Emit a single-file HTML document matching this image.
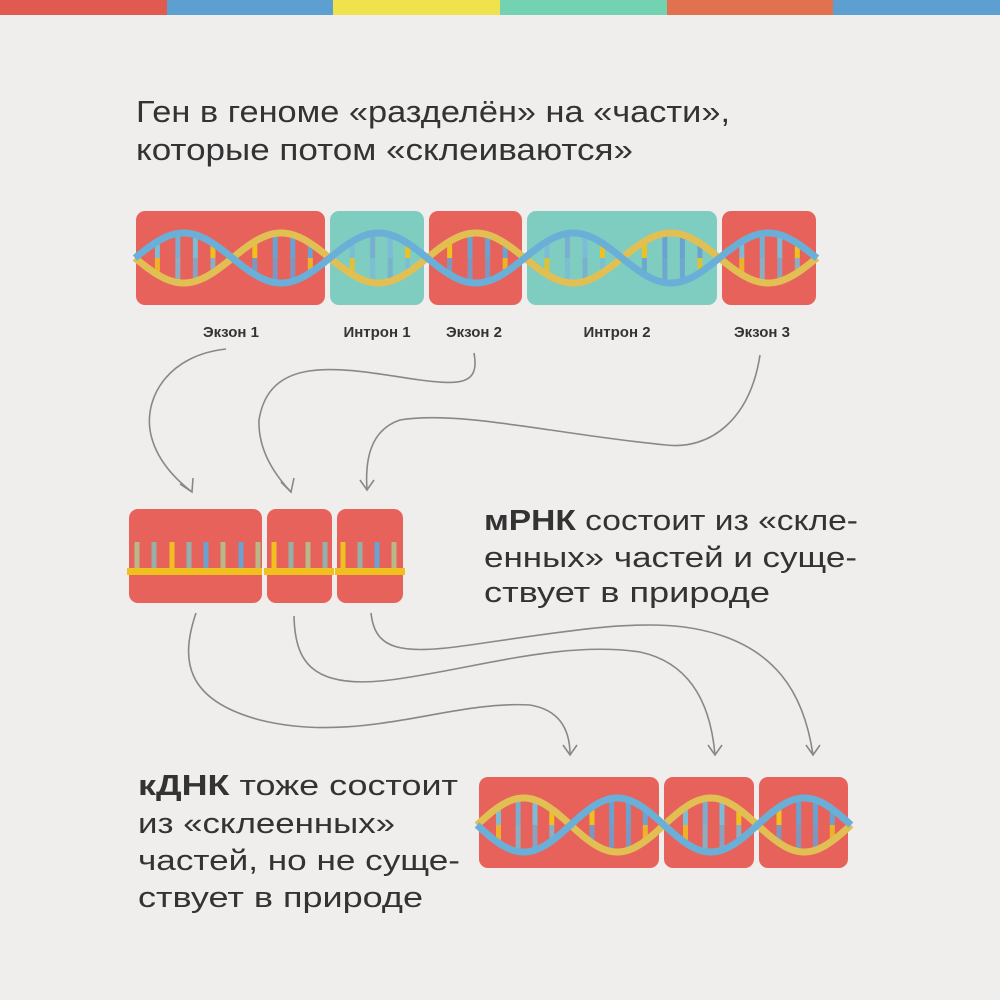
<!DOCTYPE html>
<html><head><meta charset="utf-8"><style>
html,body{margin:0;padding:0;background:#efeeec;}
svg{display:block;}
text{font-family:"Liberation Sans",sans-serif;fill:#333;}
</style></head><body>
<svg id="s" width="1000" height="1000" viewBox="0 0 1000 1000" xmlns="http://www.w3.org/2000/svg">
<rect width="1000" height="1000" fill="#efeeec"/>
<rect x="0" y="0" width="167" height="15" fill="#e05a4f"/>
<rect x="167" y="0" width="166" height="15" fill="#5e9fd2"/>
<rect x="333" y="0" width="167" height="15" fill="#efe24c"/>
<rect x="500" y="0" width="167" height="15" fill="#72d2b2"/>
<rect x="667" y="0" width="166" height="15" fill="#e27150"/>
<rect x="833" y="0" width="167" height="15" fill="#5e9fd2"/>

<text x="136" y="122" font-size="31" textLength="594" lengthAdjust="spacingAndGlyphs">Ген в геноме «разделён» на «части»,</text>
<text x="136" y="160" font-size="31" textLength="497" lengthAdjust="spacingAndGlyphs">которые потом «склеиваются»</text>

<rect x="136" y="211" width="189" height="94" rx="9" fill="#e8625c"/>
<rect x="330" y="211" width="94" height="94" rx="9" fill="#7ecdc0"/>
<rect x="429" y="211" width="93" height="94" rx="9" fill="#e8625c"/>
<rect x="527" y="211" width="190" height="94" rx="9" fill="#7ecdc0"/>
<rect x="722" y="211" width="94" height="94" rx="9" fill="#e8625c"/>
<g id="h1"></g>

<g font-size="15" font-weight="bold" text-anchor="middle">
<text x="231" y="337">Экзон 1</text>
<text x="377" y="337">Интрон 1</text>
<text x="474" y="337">Экзон 2</text>
<text x="617" y="337">Интрон 2</text>
<text x="762" y="337">Экзон 3</text>
</g>

<g fill="none" stroke="#888" stroke-width="1.6">
<path d="M226,349 C170,355 145,395 150,430 C154,455 170,475 192,492" />
<path d="M474,353 C480,385 460,385 420,380 C350,370 270,350 259,420 C258,450 275,475 291,492"/>
<path d="M760,355 C750,420 710,450 666,445 C560,435 460,410 400,420 C370,430 365,460 367,490"/>
<path d="M196,613 C180,660 185,700 260,720 C360,745 450,700 530,705 C560,710 570,730 570,755"/>
<path d="M294,616 C295,660 310,690 390,680 C470,670 560,640 640,652 C700,665 712,720 715,755"/>
<path d="M371,613 C375,650 400,655 470,645 C560,632 630,620 684,627 C780,640 805,700 813,755"/>
</g>
<g fill="none" stroke="#888" stroke-width="1.6">
<path d="M180,484 L192,492 L193,478"/>
<path d="M281,482 L291,492 L294,478"/>
<path d="M360,480 L367,490 L374,480"/>
<path d="M563,745 L570,755 L577,745"/>
<path d="M708,745 L715,755 L722,745"/>
<path d="M806,745 L813,755 L820,745"/>
</g>

<rect x="129" y="509" width="133" height="94" rx="9" fill="#e8625c"/>
<rect x="267" y="509" width="65" height="94" rx="9" fill="#e8625c"/>
<rect x="337" y="509" width="66" height="94" rx="9" fill="#e8625c"/>
<g stroke-width="5">
<line x1="137" y1="542" x2="137" y2="570" stroke="#b8b889"/>
<line x1="154" y1="542" x2="154" y2="570" stroke="#94b0a8"/>
<line x1="172" y1="542" x2="172" y2="570" stroke="#f0c020"/>
<line x1="189" y1="542" x2="189" y2="570" stroke="#94b0a8"/>
<line x1="206" y1="542" x2="206" y2="570" stroke="#6aa2d2"/>
<line x1="223" y1="542" x2="223" y2="570" stroke="#b8b889"/>
<line x1="241" y1="542" x2="241" y2="570" stroke="#6aa2d2"/>
<line x1="258" y1="542" x2="258" y2="570" stroke="#b8b889"/>
<line x1="274" y1="542" x2="274" y2="570" stroke="#f0c020"/>
<line x1="291" y1="542" x2="291" y2="570" stroke="#94b0a8"/>
<line x1="308" y1="542" x2="308" y2="570" stroke="#b8b889"/>
<line x1="325" y1="542" x2="325" y2="570" stroke="#94b0a8"/>
<line x1="343" y1="542" x2="343" y2="570" stroke="#f0c020"/>
<line x1="360" y1="542" x2="360" y2="570" stroke="#94b0a8"/>
<line x1="377" y1="542" x2="377" y2="570" stroke="#6aa2d2"/>
<line x1="394" y1="542" x2="394" y2="570" stroke="#b8b889"/>
</g>
<rect x="127" y="568" width="135" height="7" fill="#f0c020"/>
<rect x="264" y="568" width="70" height="7" fill="#f0c020"/>
<rect x="335" y="568" width="70" height="7" fill="#f0c020"/>

<text x="484" y="530" font-size="29" textLength="374" lengthAdjust="spacingAndGlyphs"><tspan font-weight="bold">мРНК</tspan> состоит из «скле-</text>
<text x="484" y="567" font-size="29" textLength="373" lengthAdjust="spacingAndGlyphs">енных» частей и суще-</text>
<text x="484" y="602" font-size="29" textLength="286" lengthAdjust="spacingAndGlyphs">ствует в природе</text>

<rect x="479" y="777" width="180" height="91" rx="9" fill="#e8625c"/>
<rect x="664" y="777" width="90" height="91" rx="9" fill="#e8625c"/>
<rect x="759" y="777" width="89" height="91" rx="9" fill="#e8625c"/>
<g id="h2"></g>

<text x="138" y="795" font-size="29" textLength="320" lengthAdjust="spacingAndGlyphs"><tspan font-weight="bold">кДНК</tspan> тоже состоит</text>
<text x="138" y="833" font-size="29" textLength="257" lengthAdjust="spacingAndGlyphs">из «склеенных»</text>
<text x="138" y="870" font-size="29" textLength="322" lengthAdjust="spacingAndGlyphs">частей, но не суще-</text>
<text x="138" y="907" font-size="29" textLength="285" lengthAdjust="spacingAndGlyphs">ствует в природе</text>
</svg>
<script>
function helix(id,x0,x1,c,A,h,blueFirstTop){
  var g=document.getElementById(id),out="";
  var cols=["#6aa2d2","#7cbcd6","#f0c020","#6aa2d2","#7aaed0","#f0c020","#6aa2d2","#7cbcd6"];
  var n=Math.round((x1-x0)/h),k=0;
  for(var i=0;i<n;i++){
    var offs=[0.23,0.44,0.62,0.8];
    for(var j=0;j<4;j++){
      var x=x0+h*(i+offs[j]);
      var t=Math.abs(A*Math.sin(Math.PI*(x-x0)/h))-3;
      var ct=cols[(k*3+1)%8],cb=cols[(k*5+2)%8];k++;
      out+='<line x1="'+x+'" y1="'+(c-t)+'" x2="'+x+'" y2="'+c+'" stroke="'+ct+'" stroke-width="5"/>';
      out+='<line x1="'+x+'" y1="'+c+'" x2="'+x+'" y2="'+(c+t)+'" stroke="'+cb+'" stroke-width="5" opacity="0.85"/>';
    }
  }
  var pb="",py="";
  for(var x=x0;x<=x1+0.1;x+=2){
    var s=A*Math.sin(Math.PI*(x-x0)/h)*(blueFirstTop?-1:1);
    pb+=(x==x0?"M":"L")+x+","+(c+s);
    py+=(x==x0?"M":"L")+x+","+(c-s);
  }
  out+='<path d="'+py+'" fill="none" stroke="#e2bf52" stroke-width="7"/>';
  out+='<path d="'+pb+'" fill="none" stroke="#6aafd8" stroke-width="7"/>';
  g.innerHTML=out;
}
helix("h1",135,817,258,25,97.4,true);
helix("h2",477,851,825,27,93.5,false);
</script>
</body></html>
